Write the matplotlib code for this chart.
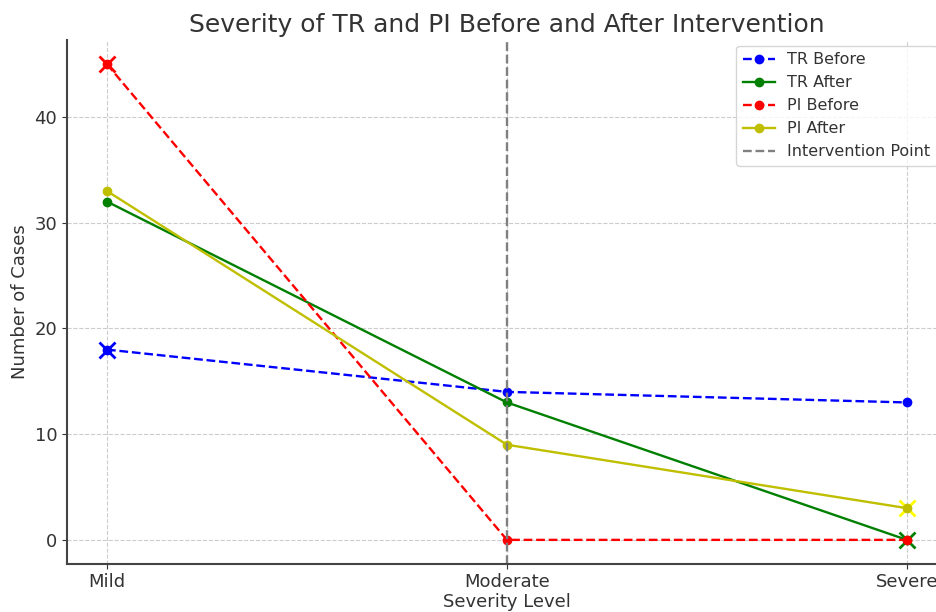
import numpy as np
import matplotlib.pyplot as plt

levels = ['Mild', 'Moderate', 'Severe']
tr_before = [18, 14, 13]
tr_after = [32, 13, 0]
pi_before = [45, 0, 0]
pi_after = [33, 9, 3]

plt.rcParams['text.color'] = '#333333'
plt.rcParams['axes.labelcolor'] = '#333333'
plt.rcParams['xtick.color'] = '#333333'
plt.rcParams['ytick.color'] = '#333333'

fig = plt.figure(figsize=(9.37, 6.12), dpi=100)
ax = fig.add_axes([0.0715, 0.079, 0.939, 0.855])

x = np.arange(len(levels))
ax.plot(x, tr_before, 'o--', color='blue', lw=1.7, label='TR Before')
ax.plot(x, tr_after, 'o-', color='green', lw=1.7, label='TR After')
ax.plot(x, pi_before, 'o--', color='red', lw=1.7, label='PI Before')
ax.plot(x, pi_after, 'o-', color='y', lw=1.7, label='PI After')
ax.axvline(1, color='gray', linestyle='--', lw=1.7, label='Intervention Point')

# highlight peaks of "before" and lows of "after"
ax.plot(x[np.argmax(tr_before)], max(tr_before), 'x', color='blue', markersize=12, mew=2, zorder=1)
ax.plot(x[np.argmax(pi_before)], max(pi_before), 'x', color='red', markersize=12, mew=2, zorder=1)
ax.plot(x[np.argmin(tr_after)], min(tr_after), 'x', color='green', markersize=12, mew=2, zorder=1)
ax.plot(x[np.argmin(pi_after)], min(pi_after), 'x', color='yellow', markersize=12, mew=2, zorder=1)

ax.set_xticks(x)
ax.set_xticklabels(levels)
ax.tick_params(labelsize=13)
ax.set_title('Severity of TR and PI Before and After Intervention', fontsize=18)
ax.set_xlabel('Severity Level', fontsize=13, labelpad=1)
ax.set_ylabel('Number of Cases', fontsize=13)
ax.grid(True, linestyle='--', color='#cccccc', linewidth=0.8)
for s in ['top', 'right']:
    ax.spines[s].set_visible(False)
for s in ['left', 'bottom']:
    ax.spines[s].set_color('#444444')
    ax.spines[s].set_linewidth(1.5)

ax.legend(loc='upper right', bbox_to_anchor=(1.0, 0.925), bbox_transform=fig.transFigure,
          fontsize=11.5, borderaxespad=0.0, labelspacing=0.5)

plt.savefig('out.png', dpi=100)
